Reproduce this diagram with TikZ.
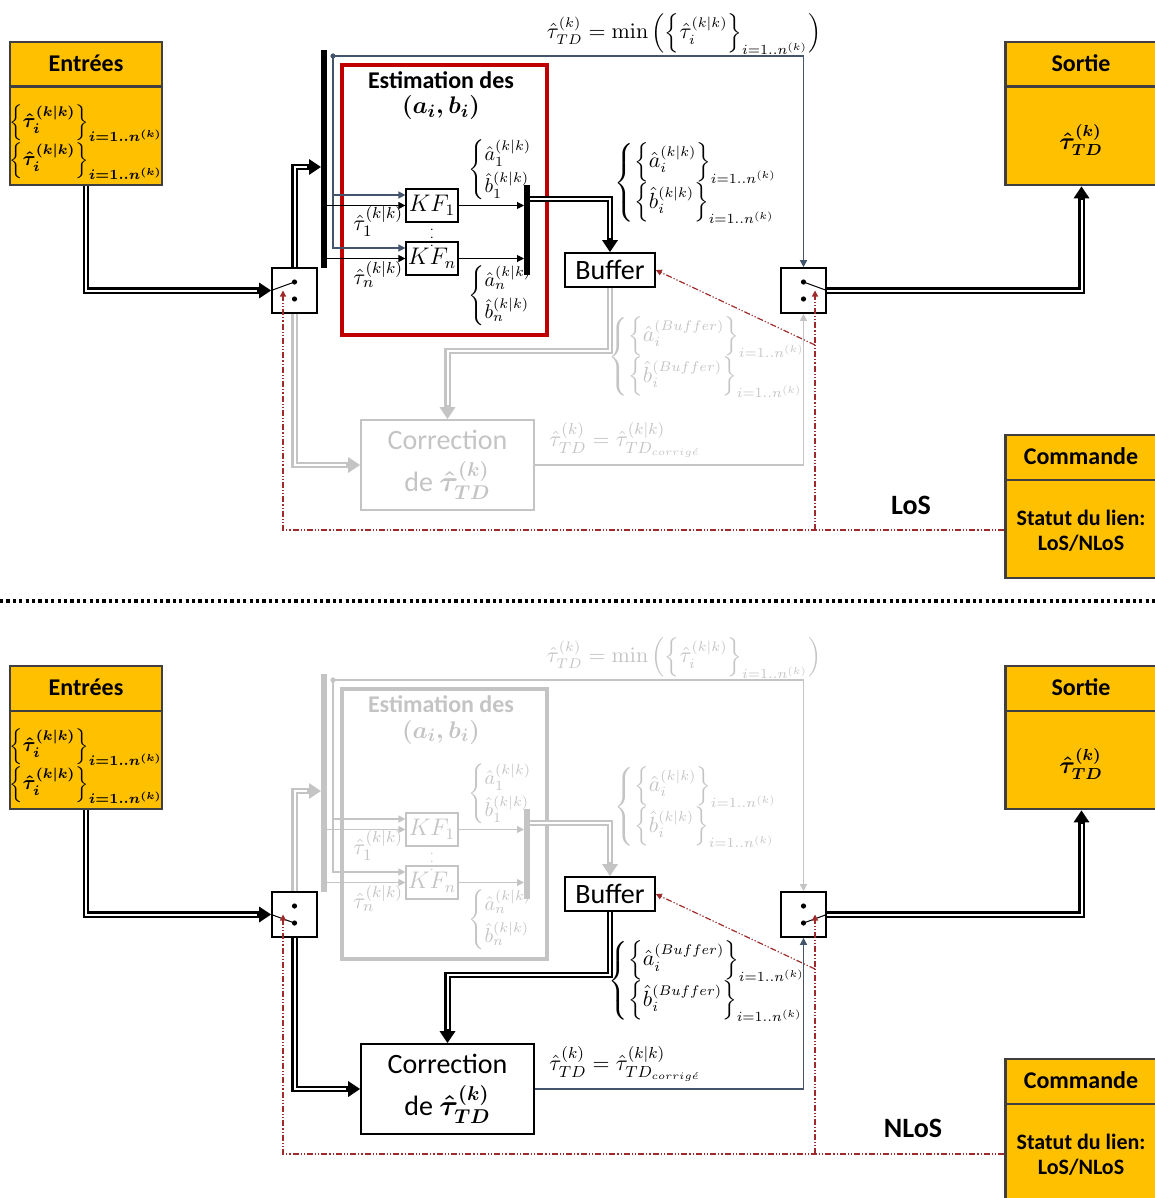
\documentclass[tikz,border=0pt]{standalone}
\usepackage{amsmath}
\usepackage[no-math]{fontspec}
\setmainfont{Carlito}
\usepackage{xcolor}
\usepackage{tikz}
\usetikzlibrary{arrows.meta, calc}
\definecolor{boxyellow}{HTML}{FFC000}
\definecolor{boxedge}{HTML}{3F3F3F}
\definecolor{estred}{HTML}{C00000}
\definecolor{linkblue}{HTML}{44546A}
\definecolor{cmdred}{HTML}{9E2A2B}
\definecolor{fade}{HTML}{C4C4C4}

% labels
\newcommand{\kk}{(k\vert k)}
\newcommand{\idx}{i=1..n^{(k)}}
\newcommand{\inset}{$\boldsymbol{\left\{\hat\tau_i^{\kk}\right\}_{\idx}}$}
\newcommand{\outtau}{$\boldsymbol{\hat\tau_{TD}^{(k)}}$}
\newcommand{\abpair}{$\boldsymbol{(a_i,b_i)}$}
\newcommand{\minlbl}{$\hat\tau_{TD}^{(k)}=\min\left(\left\{\hat\tau_i^{\kk}\right\}_{\idx}\right)$}
\newcommand{\abone}[1]{$\left\{\begin{array}{@{}l@{}}\hat a_{#1}^{\kk}\\[2pt]\hat b_{#1}^{\kk}\end{array}\right.$}
\newcommand{\abset}[1]{$\left\{\begin{array}{@{}l@{}}\left\{\hat a_i^{#1}\right\}_{\idx}\\[1pt]\left\{\hat b_i^{#1}\right\}_{\idx}\end{array}\right.$}
\newcommand{\corlbl}{$\hat\tau_{TD}^{(k)}=\hat\tau_{TD_{corrig\acute{e}}}^{\kk}$}
\newcommand{\tauin}[1]{$\hat\tau_{#1}^{\kk}$}

\tikzset{
  ybox/.style={draw=boxedge, line width=1.3pt, fill=boxyellow, minimum width=76pt, minimum height=71.5pt, inner sep=0pt},
  headtxt/.style={font=\fontsize{12}{14}\selectfont\bfseries},
  swbox/.style={draw, line width=0.8pt, fill=white, minimum size=22.5pt, inner sep=0pt},
  vbar/.style={fill=#1, minimum width=2.6pt, inner sep=0pt},
  kfbox/.style={draw=#1, text=#1, line width=0.6pt, minimum width=26pt, minimum height=16.5pt, inner sep=0pt, font=\fontsize{12}{12}\selectfont},
  dbl/.style={draw=#1, line width=3.2pt, -{Triangle[length=6pt,width=7.5pt]}, postaction={draw=white, line width=1pt, shorten >=7pt, -}},
  thinarr/.style={draw=#1, line width=0.5pt, -{Triangle[length=3.5pt,width=3.5pt]}},
  ctrl/.style={draw=cmdred, line width=0.6pt, dash pattern=on 3pt off 1pt on 0.6pt off 1pt on 0.6pt off 1pt, -{Triangle[length=3pt,width=3pt]}},
  mlbl/.style={text=#1, font=\fontsize{11}{13}\selectfont, inner sep=1pt},
  slbl/.style={text=#1, font=\fontsize{10}{12}\selectfont, inner sep=1pt},
  corbox/.style={draw=#1, text=#1, line width=0.8pt, minimum width=86.5pt, minimum height=45pt, align=center, font=\fontsize{14}{17}\selectfont},
}

\begin{document}
\begin{tikzpicture}[x=0.5pt, y=-0.5pt]
\useasboundingbox (0,0) rectangle (1155,1198);

%%% LoS
\node[ybox] (entT) at (86,113.5) {};
\node[ybox] (sorT) at (1081.5,113.5) {};
\node[ybox] (cmdT) at (1081.5,506.5) {};
\draw[draw=boxedge, line width=1.2pt] ([yshift=-23pt]entT.north west) -- ([yshift=-23pt]entT.north east);
\draw[draw=boxedge, line width=1.2pt] ([yshift=-23pt]sorT.north west) -- ([yshift=-23pt]sorT.north east);
\draw[draw=boxedge, line width=1.2pt] ([yshift=-23pt]cmdT.north west) -- ([yshift=-23pt]cmdT.north east);
\node[headtxt] (entHT) at (86,63) {Entrées};
\node[slbl=black] (entAT) at (86,123) {\inset};
\node[slbl=black] (entBT) at (86,161) {\inset};
\node[headtxt] (sorHT) at (1081,63) {Sortie};
\node[mlbl=black, font=\fontsize{12}{14}\selectfont] (sorVT) at (1081,140) {\outtau};
\node[headtxt] (cmdHT) at (1081,456) {Commande};
\node[font=\fontsize{11}{12.5}\selectfont\bfseries, align=center] (cmdVT) at (1081,531) {Statut du lien:\\LoS/NLoS};
\node[font=\fontsize{14}{14}\selectfont\bfseries] (stT) at (911,505) {LoS};

% switches
\node[swbox] (swLT) at (294.5,290.5) {};
\node[swbox] (swRT) at (803.5,290.5) {};
\fill ([yshift=4.25pt]swLT.center) circle[radius=1.3pt] ([yshift=-4.25pt]swLT.center) circle[radius=1.3pt];
\fill ([yshift=4.25pt]swRT.center) circle[radius=1.3pt] ([yshift=-4.25pt]swRT.center) circle[radius=1.3pt];
\draw[line width=0.5pt] (swLT.west) -- ([yshift=4.25pt]swLT.center);
\draw[line width=0.5pt] ([yshift=4.25pt]swRT.center) -- (swRT.east);

% estimation
\node[draw=estred, line width=2pt, minimum width=102.5pt, minimum height=135pt] (estT) at (444.5,200) {};
\node[font=\fontsize{12}{14}\selectfont\bfseries] (estTT) at (441,80) {Estimation des};
\node[mlbl=black, font=\fontsize{13}{14}\selectfont] (estPT) at (441,108) {\abpair};
\node[vbar=black, minimum height=109pt] (barIT) at (324,159) {};
\node[vbar=black, minimum height=45pt] (barOT) at (527,230) {};
\node[kfbox=black] (kf1T) at (432,205.5) {$KF_1$};
\node[kfbox=black] (kfnT) at (432,258.5) {$KF_n$};
\node[font=\fontsize{6}{6}\selectfont, inner sep=0pt] (dotsT) at (432,232) {$\vdots$};
\node[mlbl=black, anchor=east] (t1T) at ([yshift=-8pt]kf1T.west) {\tauin{1}};
\node[mlbl=black, anchor=east] (tnT) at ([yshift=-8pt]kfnT.west) {\tauin{n}};
\node[slbl=black] (ab1T) at (501,170) {\abone{1}};
\node[slbl=black] (abnT) at (501,296) {\abone{n}};
\node[mlbl=black, font=\fontsize{10.5}{12}\selectfont] (minLT) at (684,34) {\minlbl};
\node[mlbl=black, font=\fontsize{10.5}{12}\selectfont] (abLT) at (697,183) {\abset{\kk}};

\coordinate (tapT) at (333,56);
\fill[linkblue] (tapT) circle[radius=1.3pt];
\draw[thinarr=linkblue, line width=0.7pt] (tapT) -| (swRT.north);
\draw[thinarr=linkblue, line width=0.7pt] (tapT) |- ([yshift=5.25pt]kf1T.west);
\draw[thinarr=linkblue, line width=0.7pt] (tapT) |- ([yshift=5.25pt]kfnT.west);
\draw[thinarr=black] (barIT.east |- kf1T) -- (kf1T.west);
\draw[thinarr=black] (barIT.east |- kfnT) -- (kfnT.west);
\draw[thinarr=black] (kf1T.east) -- (barOT.west |- kf1T);
\draw[thinarr=black] (kfnT.east) -- (barOT.west |- kfnT);

% buffer, correction
\node[draw, line width=0.8pt, minimum width=45pt, minimum height=17pt, inner sep=0pt, font=\fontsize{14}{14}\selectfont] (bufT) at (610,270) {Buffer};
\node[corbox=fade] (corT) at (447.5,465) {Correction\\[4pt]de \outtau};
\node[mlbl=fade, font=\fontsize{10.5}{12}\selectfont] (bufLT) at (708,357) {\abset{(Buffer)}};
\node[mlbl=fade] (corLT) at (625,440) {\corlbl};

% double links
\draw[dbl=black] (entT.south) |- (swLT.west);
\draw[dbl=black] (swLT.north) |- ([yshift=-4pt]barIT.west);
\draw[dbl=black] ([yshift=15.5pt]barOT.east) -| (bufT.north);
\draw[dbl=black] (swRT.east) -| (sorT.south);
\draw[dbl=fade] (bufT.south) -- ([yshift=-31.5pt]bufT.south) -| (corT.north);
\draw[dbl=fade] (swLT.south) |- (corT.west);
\draw[thinarr=fade, line width=0.7pt] (corT.east) -| (swRT.south);

% command links
\coordinate (ckLT) at ([xshift=-5.75pt]swLT.center);
\coordinate (ckRT) at ([xshift=5.75pt]swRT.center);
\coordinate (cmdPT) at ([yshift=-11.75pt]cmdT.west);
\coordinate (brkT) at ([yshift=-27.25pt]ckRT);
\draw[ctrl] (cmdPT) -| (ckLT);
\draw[ctrl] (ckRT |- cmdPT) -- (ckRT);
\draw[ctrl] (brkT) -- (bufT.east);

% LoS / NLoS separation
\draw[line width=1.6pt, dash pattern=on 1.6pt off 1.6pt] (0,601) -- (1155,601);

%%% NLoS
\begin{scope}[shift={(0,624)}]
\node[ybox] (entB) at (86,113.5) {};
\node[ybox] (sorB) at (1081.5,113.5) {};
\node[ybox] (cmdB) at (1081.5,506.5) {};
\draw[draw=boxedge, line width=1.2pt] ([yshift=-23pt]entB.north west) -- ([yshift=-23pt]entB.north east);
\draw[draw=boxedge, line width=1.2pt] ([yshift=-23pt]sorB.north west) -- ([yshift=-23pt]sorB.north east);
\draw[draw=boxedge, line width=1.2pt] ([yshift=-23pt]cmdB.north west) -- ([yshift=-23pt]cmdB.north east);
\node[headtxt] (entHB) at (86,63) {Entrées};
\node[slbl=black] (entAB) at (86,123) {\inset};
\node[slbl=black] (entBB) at (86,161) {\inset};
\node[headtxt] (sorHB) at (1081,63) {Sortie};
\node[mlbl=black, font=\fontsize{12}{14}\selectfont] (sorVB) at (1081,140) {\outtau};
\node[headtxt] (cmdHB) at (1081,456) {Commande};
\node[font=\fontsize{11}{12.5}\selectfont\bfseries, align=center] (cmdVB) at (1081,531) {Statut du lien:\\LoS/NLoS};
\node[font=\fontsize{14}{14}\selectfont\bfseries] (stB) at (913,504) {NLoS};

% switches
\node[swbox] (swLB) at (294.5,290.5) {};
\node[swbox] (swRB) at (803.5,290.5) {};
\fill ([yshift=4.25pt]swLB.center) circle[radius=1.3pt] ([yshift=-4.25pt]swLB.center) circle[radius=1.3pt];
\fill ([yshift=4.25pt]swRB.center) circle[radius=1.3pt] ([yshift=-4.25pt]swRB.center) circle[radius=1.3pt];
\draw[line width=0.5pt] (swLB.west) -- ([yshift=-4.25pt]swLB.center);
\draw[line width=0.5pt] ([yshift=-4.25pt]swRB.center) -- (swRB.east);

% estimation (idle)
\node[draw=fade, line width=2pt, minimum width=102.5pt, minimum height=135pt] (estB) at (444.5,200) {};
\node[text=fade, font=\fontsize{12}{14}\selectfont\bfseries] (estTB) at (441,80) {Estimation des};
\node[mlbl=fade, font=\fontsize{13}{14}\selectfont] (estPB) at (441,108) {\abpair};
\node[vbar=fade, minimum height=109pt] (barIB) at (324,159) {};
\node[vbar=fade, minimum height=45pt] (barOB) at (527,230) {};
\node[kfbox=fade] (kf1B) at (432,205.5) {$KF_1$};
\node[kfbox=fade] (kfnB) at (432,258.5) {$KF_n$};
\node[text=fade, font=\fontsize{6}{6}\selectfont, inner sep=0pt] (dotsB) at (432,232) {$\vdots$};
\node[mlbl=fade, anchor=east] (t1B) at ([yshift=-8pt]kf1B.west) {\tauin{1}};
\node[mlbl=fade, anchor=east] (tnB) at ([yshift=-8pt]kfnB.west) {\tauin{n}};
\node[slbl=fade] (ab1B) at (501,170) {\abone{1}};
\node[slbl=fade] (abnB) at (501,296) {\abone{n}};
\node[mlbl=fade, font=\fontsize{10.5}{12}\selectfont] (minLB) at (684,34) {\minlbl};
\node[mlbl=fade, font=\fontsize{10.5}{12}\selectfont] (abLB) at (697,183) {\abset{\kk}};

\coordinate (tapB) at (333,56);
\fill[fade] (tapB) circle[radius=1.3pt];
\draw[thinarr=fade, line width=0.7pt] (tapB) -| (swRB.north);
\draw[thinarr=fade, line width=0.7pt] (tapB) |- ([yshift=5.25pt]kf1B.west);
\draw[thinarr=fade, line width=0.7pt] (tapB) |- ([yshift=5.25pt]kfnB.west);
\draw[thinarr=fade] (barIB.east |- kf1B) -- (kf1B.west);
\draw[thinarr=fade] (barIB.east |- kfnB) -- (kfnB.west);
\draw[thinarr=fade] (kf1B.east) -- (barOB.west |- kf1B);
\draw[thinarr=fade] (kfnB.east) -- (barOB.west |- kfnB);

% buffer, correction
\node[draw, line width=0.8pt, minimum width=45pt, minimum height=17pt, inner sep=0pt, font=\fontsize{14}{14}\selectfont] (bufB) at (610,270) {Buffer};
\node[corbox=black] (corB) at (447.5,465) {Correction\\[4pt]de \outtau};
\node[mlbl=black, font=\fontsize{10.5}{12}\selectfont] (bufLB) at (708,357) {\abset{(Buffer)}};
\node[mlbl=black] (corLB) at (625,440) {\corlbl};

% double links
\draw[dbl=black] (entB.south) |- (swLB.west);
\draw[dbl=fade] (swLB.north) |- ([yshift=-4pt]barIB.west);
\draw[dbl=fade] ([yshift=15.5pt]barOB.east) -| (bufB.north);
\draw[dbl=black] (swRB.east) -| (sorB.south);
\draw[dbl=black] (bufB.south) -- ([yshift=-31.5pt]bufB.south) -| (corB.north);
\draw[dbl=black] (swLB.south) |- (corB.west);
\draw[thinarr=linkblue, line width=0.7pt] (corB.east) -| (swRB.south);

% command links
\coordinate (ckLB) at ([xshift=-5.75pt]swLB.center);
\coordinate (ckRB) at ([xshift=5.75pt]swRB.center);
\coordinate (cmdPB) at ([yshift=-11.75pt]cmdB.west);
\coordinate (brkB) at ([yshift=-27.25pt]ckRB);
\draw[ctrl] (cmdPB) -| (ckLB);
\draw[ctrl] (ckRB |- cmdPB) -- (ckRB);
\draw[ctrl] (brkB) -- (bufB.east);
\end{scope}
\end{tikzpicture}
\end{document}
